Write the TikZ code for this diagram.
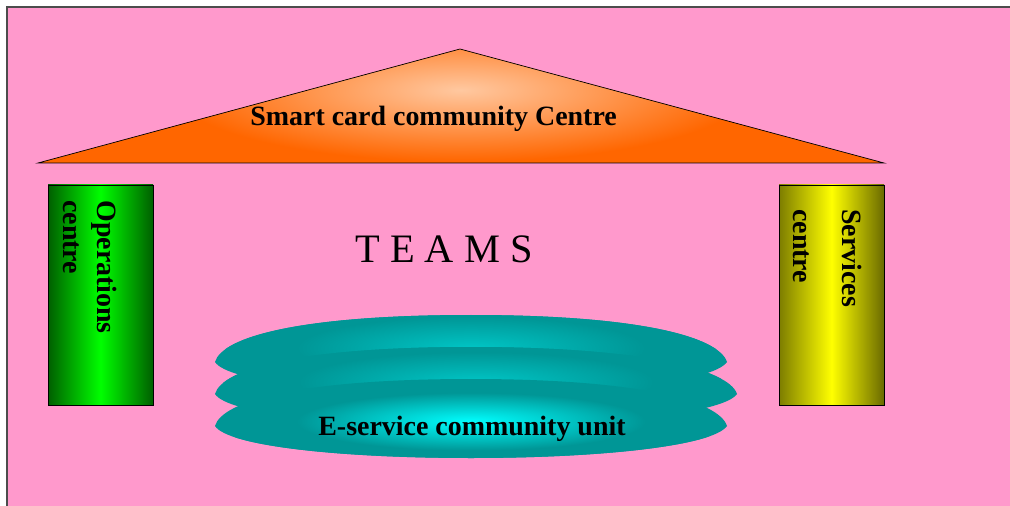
\documentclass[tikz,border=0pt]{standalone}
\usepackage{fontspec}
\setmainfont{Liberation Serif}
\usepackage{tikz}
\definecolor{slidepink}{RGB}{255,153,204}
\definecolor{roofout}{RGB}{255,102,0}
\definecolor{roofin}{RGB}{255,200,160}
\definecolor{diskteal}{RGB}{0,150,150}
\definecolor{diskcyan}{RGB}{0,255,255}
\definecolor{opsdark}{RGB}{0,95,0}
\definecolor{opslight}{RGB}{0,255,0}
\definecolor{servdark}{RGB}{125,125,0}
\definecolor{servlight}{RGB}{255,255,0}
\colorlet{diskglow}{diskcyan}

\pgfdeclareradialshading{roofglow}{\pgfpoint{0bp}{0bp}}{color(0bp)=(roofin); color(17bp)=(roofout); color(25bp)=(roofout)}
\pgfdeclareradialshading[diskglow]{diskshine}{\pgfpoint{0bp}{0bp}}{color(0bp)=(diskglow); color(17bp)=(diskteal); color(25bp)=(diskteal)}

\tikzset{
  boldlabel/.style={inner sep=0pt, anchor=base west, font=\fontsize{15.9}{18}\selectfont\bfseries},
  sidelabel/.style={boldlabel, rotate=-90}
}

\begin{document}
\begin{tikzpicture}[x=0.02cm,y=-0.02cm]
\clip (0,0) rectangle (1010,506);
% slide
\fill[white] (0,0) rectangle (1010,506);
\draw[draw=black!70, line width=1.2pt, fill=slidepink] (7,7) rectangle (1030,530);
% roof
\draw[fill=roofout, path picture={
    \shade[shading=roofglow] (460,90) ellipse (330 and 105);}]
  (38,163) -- (460,49) -- (884,163) -- cycle;
\node[boldlabel] (roof) at (250,126) {Smart card community Centre};
% pillars
\shade[draw=black, left color=opsdark, right color=opsdark, middle color=opslight] (48,185) rectangle (153,405);
\node[sidelabel] (ops1) at (97,200) {Operations};
\node[sidelabel] (ops2) at (63,200) {centre};
\shade[draw=black, left color=servdark, right color=servdark!85!black, middle color=servlight] (779,185) rectangle (884,405);
\node[sidelabel] (serv1) at (842,209) {Services};
\node[sidelabel] (serv2) at (793,209) {centre};
% teams
\node[inner sep=0pt, anchor=base west, font=\fontsize{23}{27}\selectfont] (teams) at (355,263) {T E A M S};
% stacked disks
\foreach \ym/\xr/\glow/\gy in {362/727/45/-20, 394/737/45/-16, 426/727/100/-2} {
  \colorlet{diskglow}{diskcyan!\glow!diskteal}
  \fill[diskteal, path picture={
      \shade[shading=diskshine] (471,\ym+\gy) ellipse (250 and 40);}]
    (215,\ym) .. controls (222,\ym-25) and (300,\ym-47) .. (471,\ym-47)
    .. controls (640,\ym-47) and (\xr-8,\ym-25) .. (\xr,\ym)
    .. controls (\xr-14,\ym+20) and (600,\ym+32) .. (471,\ym+32)
    .. controls (340,\ym+32) and (228,\ym+20) .. cycle;
}
\node[boldlabel] (unit) at (318,435) {E-service community unit};
\end{tikzpicture}
\end{document}
